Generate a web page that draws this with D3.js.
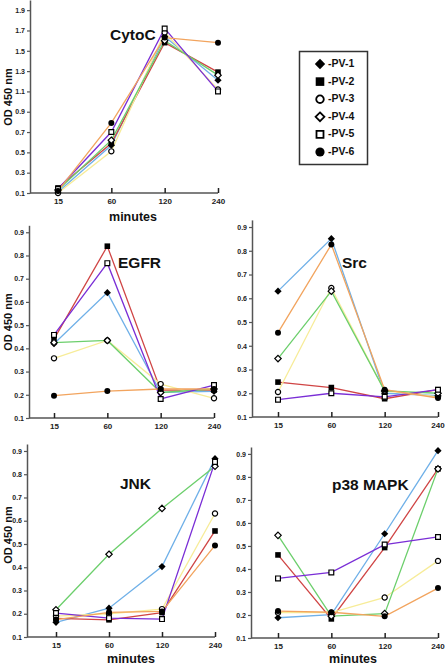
<!DOCTYPE html>
<html><head><meta charset="utf-8">
<script src="https://cdn.jsdelivr.net/npm/d3@7"></script>
<style>body{margin:0;background:#fff}svg{display:block;font-family:"Liberation Sans",Arial,sans-serif}</style>
</head><body><svg id="c" width="445" height="666"></svg>
<script>
const times = ["15","60","120","240"];
const seriesNames = ["PV-1","PV-2","PV-3","PV-4","PV-5","PV-6"];
const cytoC = [[0.11,0.57,1.64,1.21],[0.15,0.59,1.58,1.29],[0.10,0.51,1.68,1.12],[0.13,0.62,1.60,1.26],[0.14,0.70,1.72,1.10],[0.12,0.79,1.63,1.58]];
const egfr  = [[0.42,0.64,0.21,0.215],[0.44,0.84,0.22,0.22],[0.357,0.434,0.246,0.185],[0.425,0.434,0.21,0.225],[0.458,0.767,0.182,0.242],[0.196,0.216,0.225,0.225]];
const src   = [[0.63,0.851,0.20,0.19],[0.247,0.224,0.177,0.215],[0.205,0.643,0.21,0.185],[0.346,0.63,0.21,0.20],[0.173,0.20,0.185,0.215],[0.455,0.826,0.215,0.18]];
const jnk   = [[0.163,0.224,0.403,0.867],[0.18,0.174,0.205,0.556],[0.19,0.20,0.22,0.631],[0.217,0.456,0.653,0.834],[0.203,0.181,0.177,0.853],[0.175,0.206,0.21,0.494]];
const p38   = [[0.188,0.202,0.553,0.914],[0.461,0.183,0.493,0.835],[0.21,0.21,0.276,0.435],[0.546,0.195,0.206,0.835],[0.359,0.385,0.506,0.539],[0.217,0.212,0.194,0.317]];
const yTicksTop = [0.1,0.3,0.5,0.7,0.9,1.1,1.3,1.5,1.7,1.9];
const yTicksSmall = [0.1,0.2,0.3,0.4,0.5,0.6,0.7,0.8,0.9];

const colors = ["#6fb0e8","#d04545","#f7ec98","#6ccf6c","#7a2ed6","#f2a45e"];
const shapes = ["diamond","square","circle","diamond","square","circle"];
const filled = [true,true,false,false,false,true];

const svg = d3.select("#c");

const panels = [
  {name:"CytoC", data:cytoC, ax:30, x0:58, x1:218, y0:193, yTop:0, dom:[0.1,2.0], ticks:yTicksTop, title:[110,40], ytitle:97, minutes:[133,221]},
  {name:"EGFR", data:egfr, ax:29, x0:54, x1:214, y0:418, yTop:225.3, dom:[0.1,0.93], ticks:yTicksSmall, title:[118,268], ytitle:322},
  {name:"Src", data:src, ax:252, x0:278, x1:438, y0:417, yTop:219.9, dom:[0.1,0.93], ticks:yTicksSmall, title:[342,268]},
  {name:"JNK", data:jnk, ax:27, x0:56, x1:215, y0:637, yTop:444, dom:[0.1,0.93], ticks:yTicksSmall, title:[120,489], ytitle:535, minutes:[131,663]},
  {name:"p38 MAPK", data:p38, ax:251, x0:278, x1:438, y0:638, yTop:447, dom:[0.1,0.93], ticks:yTicksSmall, title:[332,490], minutes:[353,663]}
];
const fmt = d3.format(".1f");

function symbolPath(shape, r){
  if(shape==="diamond") return `M0,${-r}L${r},0L0,${r}L${-r},0Z`;
  if(shape==="square") return `M${-r},${-r}H${r}V${r}H${-r}Z`;
  return d3.symbol().type(d3.symbolCircle).size(Math.PI*r*r)();
}
const markR = {diamond:3.6, square:2.8, circle:3.0};
const legR = {diamond:5.2, square:4.3, circle:4.6};

panels.forEach(p=>{
  const x = d3.scalePoint().domain(times).range([p.x0,p.x1]);
  const y = d3.scaleLinear().domain(p.dom).range([p.y0,p.yTop]);
  const g = svg.append("g");
  const ya = g.append("g").attr("transform",`translate(${p.ax},0)`)
    .call(d3.axisLeft(y).tickValues(p.ticks).tickFormat(fmt).tickSize(3).tickSizeOuter(0));
  ya.select(".domain").attr("stroke","#555").attr("stroke-width",1.5);
  ya.selectAll(".tick line").attr("stroke","#555").attr("stroke-width",1.2);
  ya.selectAll(".tick text").attr("font-size",7).attr("font-weight","bold").attr("fill","#222").attr("x",-5);
  const xa = g.append("g").attr("transform",`translate(0,${p.y0})`)
    .call(d3.axisBottom(x).tickSize(-5).tickSizeOuter(0));
  xa.select(".domain").attr("d",`M${p.ax},0H${p.x1}`).attr("stroke","#555").attr("stroke-width",1.5);
  xa.selectAll(".tick line").attr("stroke","#222").attr("stroke-width",1.5);
  xa.selectAll(".tick text").attr("font-size",8).attr("font-weight","bold").attr("fill","#222").attr("y",5);
  if(p.x1>430) xa.selectAll(".tick text").filter(d=>d==="240").attr("dx",-0.5);
  const line = d3.line().x((d,i)=>x(times[i])).y(d=>y(d));
  p.data.forEach((s,k)=>{
    g.append("path").attr("d",line(s)).attr("fill","none").attr("stroke",colors[k]).attr("stroke-width",1.3);
  });
  p.data.forEach((s,k)=>{
    g.selectAll(null).data(s).join("path")
      .attr("transform",(d,i)=>`translate(${x(times[i])},${y(d)})`)
      .attr("d",symbolPath(shapes[k], filled[k]?markR[shapes[k]]:markR[shapes[k]]-0.4))
      .attr("fill",filled[k]?"#000":"#fff").attr("stroke","#000").attr("stroke-width",filled[k]?0:1.2);
  });
  g.append("text").attr("x",p.title[0]).attr("y",p.title[1]).text(p.name)
    .attr("font-size",15.5).attr("font-weight","bold").attr("fill","#111");
  if(p.ytitle){
    g.append("text").attr("transform",`translate(12,${p.ytitle}) rotate(-90)`).attr("text-anchor","middle")
      .attr("font-size",11).attr("font-weight","bold").attr("fill","#111").text("OD 450 nm");
  }
  if(p.minutes){
    g.append("text").attr("x",p.minutes[0]).attr("y",p.minutes[1]).attr("text-anchor","middle")
      .attr("font-size",12.5).attr("font-weight","bold").attr("fill","#111").text("minutes");
  }
});

const lg = svg.append("g");
lg.append("rect").attr("x",299.5).attr("y",51.5).attr("width",68).attr("height",113)
  .attr("fill","#fff").attr("stroke","#333").attr("stroke-width",1.5);
seriesNames.forEach((n,k)=>{
  const cy = 64 + k*17.6;
  lg.append("path").attr("transform",`translate(320,${cy})`)
    .attr("d",symbolPath(shapes[k], filled[k]?legR[shapes[k]]:legR[shapes[k]]-0.8))
    .attr("fill",filled[k]?"#000":"#fff").attr("stroke","#000").attr("stroke-width",filled[k]?0:1.8);
  lg.append("text").attr("x",328).attr("y",cy+3).attr("font-size",10.5).attr("font-weight","bold").attr("fill","#111").text("-"+n);
});
</script></body></html>
